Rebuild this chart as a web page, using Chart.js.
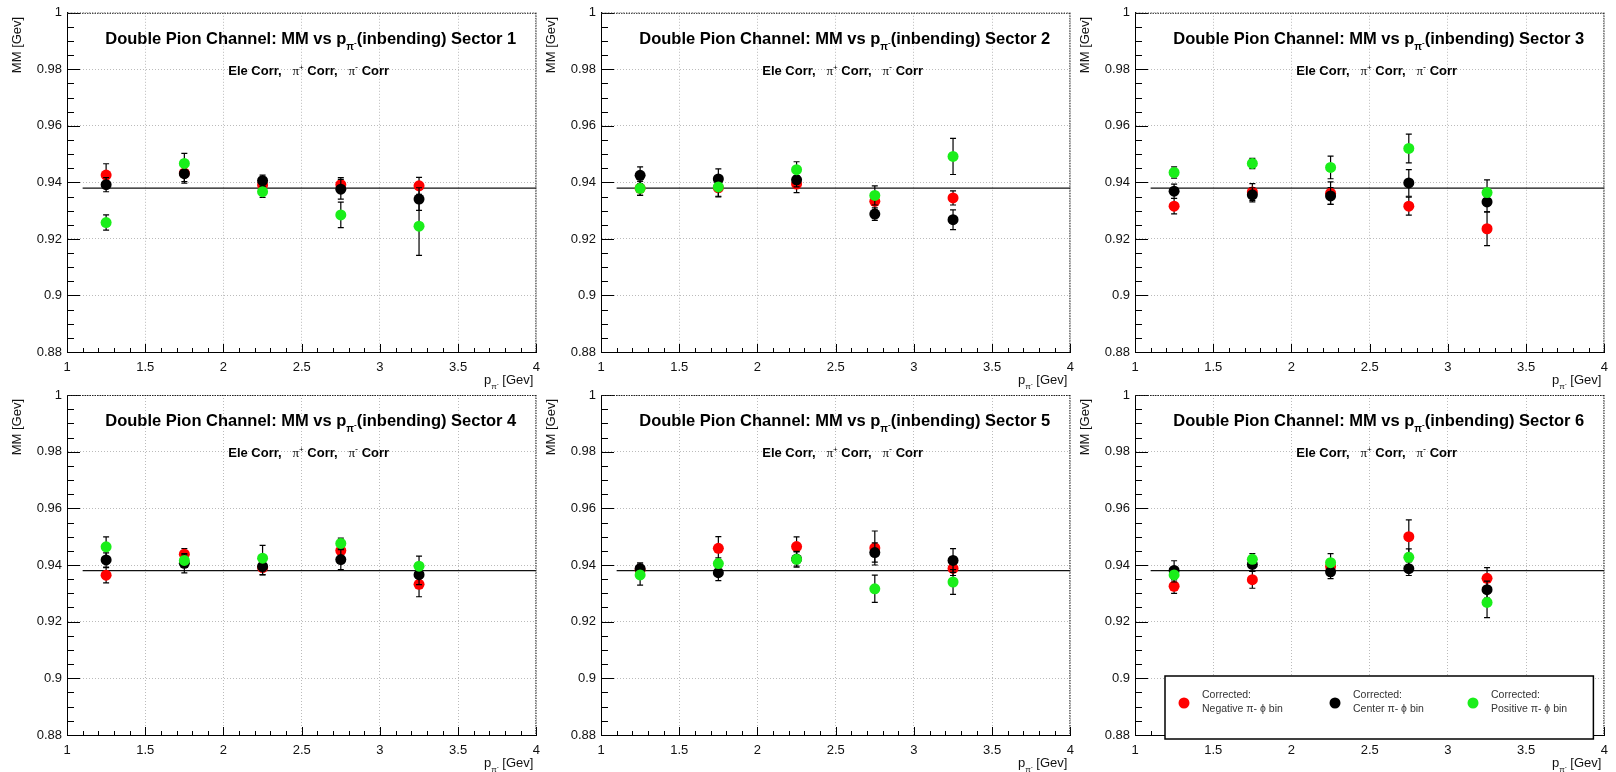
<!DOCTYPE html>
<html>
<head>
<meta charset="utf-8">
<script src="https://cdn.jsdelivr.net/npm/chart.js@4"></script>
<style>
  html, body { margin: 0; background: #fff; }
  #wrap { position: relative; width: 1616px; height: 772px; overflow: hidden; }
  #wrap canvas { position: absolute; }
</style>
</head>
<body>
<div id="wrap"></div>
<script>
// Data
const xBins = [1.25, 1.75, 2.25, 2.75, 3.25];
const xTicks = [1, 1.5, 2, 2.5, 3, 3.5, 4];
const xTickLabels = ["1", "1.5", "2", "2.5", "3", "3.5", "4"];
const yTicks = [0.88, 0.9, 0.92, 0.94, 0.96, 0.98, 1];
const yTickLabels = ["0.88", "0.9", "0.92", "0.94", "0.96", "0.98", "1"];
const sectors = [1, 2, 3, 4, 5, 6];
const refMM = 0.938;
const refStart = 1.1;

// one row per sector, one value per momentum bin
const negMM = [
  [0.9426, 0.9433, 0.9391, 0.9392, 0.9388],
  [0.9379, 0.9381, 0.9394, 0.9333, 0.9345],
  [0.9316, 0.9366, 0.9362, 0.9316, 0.9236],
  [0.9364, 0.9438, 0.9391, 0.9451, 0.9332],
  [0.9382, 0.9459, 0.9465, 0.9460, 0.9388],
  [0.9325, 0.9348, 0.9395, 0.9500, 0.9353]
];
const negErr = [
  [0.0040, 0.0030, 0.0020, 0.0025, 0.0030],
  [0.0025, 0.0030, 0.0030, 0.0030, 0.0025],
  [0.0027, 0.0030, 0.0040, 0.0032, 0.0060],
  [0.0027, 0.0020, 0.0025, 0.0025, 0.0044],
  [0.0025, 0.0041, 0.0034, 0.0060, 0.0025],
  [0.0025, 0.0030, 0.0025, 0.0059, 0.0038]
];
const cenMM = [
  [0.9392, 0.9431, 0.9406, 0.9376, 0.9341],
  [0.9425, 0.9412, 0.9409, 0.9288, 0.9268],
  [0.9369, 0.9356, 0.9352, 0.9398, 0.9331],
  [0.9418, 0.9406, 0.9395, 0.9419, 0.9366],
  [0.9387, 0.9373, 0.9421, 0.9444, 0.9416],
  [0.9381, 0.9402, 0.9376, 0.9387, 0.9313]
];
const cenErr = [
  [0.0025, 0.0034, 0.0020, 0.0035, 0.0040],
  [0.0030, 0.0036, 0.0025, 0.0022, 0.0035],
  [0.0025, 0.0025, 0.0030, 0.0047, 0.0035],
  [0.0025, 0.0034, 0.0030, 0.0035, 0.0035],
  [0.0020, 0.0028, 0.0025, 0.0034, 0.0042],
  [0.0034, 0.0025, 0.0024, 0.0024, 0.0030]
];
const posMM = [
  [0.9258, 0.9467, 0.9367, 0.9285, 0.9245],
  [0.9379, 0.9384, 0.9445, 0.9354, 0.9492],
  [0.9435, 0.9467, 0.9453, 0.9520, 0.9364],
  [0.9464, 0.9416, 0.9424, 0.9476, 0.9396],
  [0.9365, 0.9405, 0.9420, 0.9316, 0.9340],
  [0.9365, 0.9420, 0.9408, 0.9427, 0.9268]
];
const posErr = [
  [0.0027, 0.0036, 0.0020, 0.0045, 0.0103],
  [0.0025, 0.0035, 0.0028, 0.0034, 0.0064],
  [0.0020, 0.0018, 0.0040, 0.0051, 0.0045],
  [0.0035, 0.0020, 0.0045, 0.0019, 0.0035],
  [0.0036, 0.0020, 0.0028, 0.0048, 0.0044],
  [0.0025, 0.0020, 0.0032, 0.0030, 0.0054]
];
const seriesLabels = ["Negative π- ϕ bin", "Center π- ϕ bin", "Positive π- ϕ bin"];
const seriesColors = ["#ff0000", "#000000", "#1aee1a"];

// Layout
const FONT = "'Liberation Sans', Arial, Helvetica, sans-serif";
const SERIF = "'Liberation Serif', 'DejaVu Serif', serif";
const colLeft = [0, 534, 1068];
const plotRightByCol = [543, 541, 542];
const rowTop = [0, 380];
const plotTopByRow = [11, 15];
const plotBottomByRow = [352, 355];
const CW = 548, CH = 392;

function drawRuns(ctx, runs, x, y, align) {
    let total = 0;
    runs.forEach(r => { ctx.font = r[1]; r.w = ctx.measureText(r[0]).width; total += r.w; });
    let cx = align === "center" ? x - total / 2 : align === "right" ? x - total : x;
    ctx.textAlign = "left";
    ctx.textBaseline = "alphabetic";
    runs.forEach(r => { ctx.font = r[1]; ctx.fillText(r[0], cx, y + r[2]); cx += r.w; });
}

// ROOT-ish decorations: error bars, inner ticks, dotted frame, titles, legend
const rootStyle = {
    id: "rootStyle",
    beforeDatasetDraw(chart, args) {
        const ds = chart.data.datasets[args.index];
        if (!ds.errors) return;
        const ctx = chart.ctx, ys = chart.scales.y;
        ctx.save();
        ctx.strokeStyle = "#000";
        ctx.lineWidth = 1.2;
        args.meta.data.forEach((pt, i) => {
            const v = ds.data[i].y, e = ds.errors[i];
            const y1 = ys.getPixelForValue(v + e), y2 = ys.getPixelForValue(v - e);
            ctx.beginPath();
            ctx.moveTo(pt.x, y1); ctx.lineTo(pt.x, y2);
            ctx.moveTo(pt.x - 3, y1); ctx.lineTo(pt.x + 3, y1);
            ctx.moveTo(pt.x - 3, y2); ctx.lineTo(pt.x + 3, y2);
            ctx.stroke();
        });
        ctx.restore();
    },
    afterDraw(chart, args, opts) {
        const ctx = chart.ctx, a = chart.chartArea;
        const xs = chart.scales.x, ys = chart.scales.y;
        ctx.save();

        // inner ticks
        ctx.strokeStyle = "#000";
        ctx.lineWidth = 1;
        ctx.beginPath();
        for (let k = 0; k <= 30; k++) {
            const px = Math.round(xs.getPixelForValue(1 + k * 0.1)) + 0.5;
            const len = k % 5 === 0 ? 8 : 4;
            ctx.moveTo(px, a.bottom); ctx.lineTo(px, a.bottom - len);
        }
        for (let k = 0; k <= 24; k++) {
            const py = Math.round(ys.getPixelForValue(0.88 + k * 0.005)) + 0.5;
            const len = k % 4 === 0 ? 13 : 7;
            ctx.moveTo(a.left, py); ctx.lineTo(a.left + len, py);
        }
        ctx.stroke();

        // dotted top / right frame
        ctx.setLineDash([1.5, 1]);
        ctx.strokeStyle = "#222";
        ctx.beginPath();
        ctx.moveTo(a.left, a.top + 0.5); ctx.lineTo(a.right, a.top + 0.5);
        ctx.moveTo(a.right - 0.5, a.top); ctx.lineTo(a.right - 0.5, a.bottom);
        ctx.stroke();
        ctx.setLineDash([]);

        // titles
        const cx = (a.left + a.right) / 2;
        ctx.fillStyle = "#000";
        drawRuns(ctx, [
            ["Double Pion Channel: MM vs p", "bold 16.5px " + FONT, 0],
            ["π", "bold 10px " + FONT, 6],
            ["-", "bold 8px " + FONT, 1],
            ["(inbending) Sector " + opts.sector, "bold 16.5px " + FONT, 0]
        ], cx + 9, a.top + 31, "center");
        drawRuns(ctx, [
            ["Ele Corr,   ", "bold 13px " + FONT, 0],
            ["π", "13px " + SERIF, 0],
            ["+", "8px " + FONT, -5],
            [" Corr,   ", "bold 13px " + FONT, 0],
            ["π", "13px " + SERIF, 0],
            ["-", "9px " + FONT, -5],
            [" Corr", "bold 13px " + FONT, 0]
        ], cx + 7, a.top + 62, "center");

        // axis titles
        ctx.fillStyle = "#111";
        drawRuns(ctx, [
            ["p", "13px " + FONT, 0],
            ["π", "8px " + FONT, 5],
            ["-", "6px " + FONT, 2],
            [" [Gev]", "13px " + FONT, 0]
        ], a.right - 3, a.bottom + 32, "right");
        ctx.save();
        ctx.translate(a.left - 46, a.top + 4);
        ctx.rotate(-Math.PI / 2);
        ctx.font = "13px " + FONT;
        ctx.textAlign = "right";
        ctx.textBaseline = "alphabetic";
        ctx.fillText("MM [Gev]", 0, 0);
        ctx.restore();

        // legend box (sector 6 only)
        if (opts.legend) {
            const bx = a.left + 30, by = a.top + 281, bw = a.right - 11 - bx, bh = a.bottom + 4 - by;
            ctx.fillStyle = "#fff";
            ctx.fillRect(bx, by, bw, bh);
            ctx.strokeStyle = "#000";
            ctx.lineWidth = 1.5;
            ctx.strokeRect(bx, by, bw, bh);
            const offs = [19, 170, 308];
            chart.data.datasets.filter(d => d.errors).forEach((d, i) => {
                ctx.fillStyle = d.backgroundColor;
                ctx.beginPath();
                ctx.arc(bx + offs[i], by + 27, 5.5, 0, Math.PI * 2);
                ctx.fill();
                ctx.fillStyle = "#333";
                ctx.font = "10.5px " + FONT;
                ctx.textAlign = "left";
                ctx.textBaseline = "middle";
                ctx.fillText("Corrected:", bx + offs[i] + 18, by + 19);
                ctx.fillText(d.label, bx + offs[i] + 18, by + 33);
            });
        }
        ctx.restore();
    }
};

const wrap = document.getElementById("wrap");

function makePanel(s) {
    const col = s % 3, row = Math.floor(s / 3);
    const cv = document.createElement("canvas");
    cv.width = CW; cv.height = CH;
    cv.style.left = colLeft[col] + "px";
    cv.style.top = rowTop[row] + "px";
    wrap.appendChild(cv);

    const plotRight = plotRightByCol[col];
    const plotTop = plotTopByRow[row];
    const plotBottom = plotBottomByRow[row];
    const pts = arr => xBins.map((x, i) => ({ x: x, y: arr[s][i] }));
    const marker = (k, arr, err, order) => ({
        label: seriesLabels[k], data: pts(arr), errors: err[s],
        backgroundColor: seriesColors[k], pointRadius: 5.5, pointBorderWidth: 0, order: order
    });

    new Chart(cv, {
        type: "scatter",
        data: {
            datasets: [
                {
                    label: "ref", data: [{ x: refStart, y: refMM }, { x: 4, y: refMM }],
                    showLine: true, borderColor: "#111", borderWidth: 1.3, pointRadius: 0, order: 4
                },
                marker(0, negMM, negErr, 3),
                marker(1, cenMM, cenErr, 2),
                marker(2, posMM, posErr, 1)
            ]
        },
        options: {
            responsive: false,
            animation: false,
            events: [],
            layout: { autoPadding: false, padding: { left: 0, top: plotTop, right: CW - plotRight, bottom: 0 } },
            plugins: {
                legend: { display: false },
                tooltip: { enabled: false },
                rootStyle: { sector: sectors[s], legend: s === 5 }
            },
            scales: {
                x: {
                    type: "linear", min: 1, max: 4,
                    afterBuildTicks: sc => { sc.ticks = xTicks.map(v => ({ value: v })); },
                    afterFit: sc => { sc.height = CH - plotBottom; },
                    ticks: {
                        callback: (v, i) => xTickLabels[i], autoSkip: false, maxRotation: 0,
                        font: { family: FONT, size: 13 }, color: "#111", padding: 8
                    },
                    grid: { color: "#bbb", lineWidth: 1, drawTicks: false },
                    border: { color: "#000", width: 1, dash: [1, 2] }
                },
                y: {
                    type: "linear", min: 0.88, max: 1,
                    afterBuildTicks: sc => { sc.ticks = yTicks.map(v => ({ value: v })); },
                    afterFit: sc => { sc.width = 67; },
                    ticks: {
                        callback: (v, i) => yTickLabels[i], autoSkip: false,
                        font: { family: FONT, size: 13 }, color: "#111", padding: 5
                    },
                    grid: { color: "#bbb", lineWidth: 1, drawTicks: false },
                    border: { color: "#000", width: 1, dash: [1, 2] }
                }
            }
        },
        plugins: [rootStyle]
    });
}

sectors.forEach((_, s) => makePanel(s));
</script>
</body>
</html>
